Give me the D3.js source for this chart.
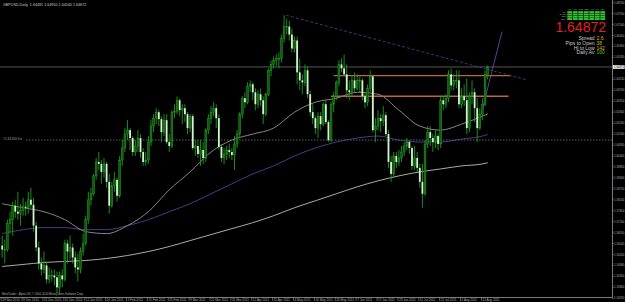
<!DOCTYPE html>
<html><head><meta charset="utf-8">
<script src="https://cdn.jsdelivr.net/npm/d3@7"></script>
<style>html,body{margin:0;padding:0;background:#000;overflow:hidden}svg{display:block}</style>
</head><body><svg id="c" width="625" height="302"></svg>
<script>
// ---------------- data ----------------
const symbolTitle = "GBPUSD,Daily  1.64491 1.64950 1.64240 1.64872";
const copyright = "MetaTrader - Alpari UK, \u00a9 2001-2010 MetaQuotes Software Corp.";
const open = [1.5590,1.5570,1.5570,1.5700,1.5720,1.5790,1.5760,1.5750,1.5765,1.5785,1.5780,1.5820,1.5795,1.5690,1.5580,1.5500,1.5470,1.5490,1.5420,1.5440,1.5440,1.5430,1.5380,1.5440,1.5420,1.5600,1.5560,1.5580,1.5530,1.5480,1.5470,1.5560,1.5600,1.5720,1.5820,1.5850,1.5940,1.6010,1.6000,1.5960,1.6000,1.5910,1.5790,1.5890,1.5920,1.5840,1.6020,1.6080,1.6150,1.6170,1.6130,1.6060,1.6090,1.6130,1.6060,1.6010,1.6020,1.6110,1.6190,1.6230,1.6260,1.6225,1.6160,1.6220,1.6110,1.6090,1.6260,1.6265,1.6320,1.6270,1.6280,1.6250,1.6180,1.6240,1.6080,1.6090,1.6050,1.6070,1.6030,1.6170,1.6230,1.6260,1.6280,1.6230,1.6085,1.6030,1.6050,1.6070,1.6060,1.6045,1.6100,1.6150,1.6250,1.6330,1.6310,1.6390,1.6400,1.6360,1.6300,1.6350,1.6320,1.6250,1.6350,1.6470,1.6500,1.6520,1.6530,1.6530,1.6630,1.6690,1.6690,1.6650,1.6580,1.6620,1.6460,1.6420,1.6410,1.6470,1.6350,1.6260,1.6230,1.6180,1.6240,1.6200,1.6300,1.6210,1.6120,1.6300,1.6340,1.6410,1.6500,1.6480,1.6450,1.6370,1.6360,1.6420,1.6380,1.6420,1.6420,1.6340,1.6310,1.6380,1.6440,1.6170,1.6190,1.6230,1.6215,1.6245,1.6150,1.6010,1.5950,1.6040,1.6010,1.6030,1.6060,1.6090,1.6110,1.6080,1.5990,1.6030,1.5980,1.5910,1.5850,1.6100,1.6160,1.6130,1.6110,1.6140,1.6100,1.6320,1.6300,1.6330,1.6450,1.6395,1.6420,1.6420,1.6300,1.6340,1.6320,1.6180,1.6340,1.6360,1.6280,1.6180,1.6250,1.6300,1.6449];
const high = [1.5640,1.5620,1.5720,1.5760,1.5810,1.5820,1.5860,1.5800,1.5830,1.5810,1.5860,1.5880,1.5830,1.5710,1.5610,1.5530,1.5560,1.5510,1.5480,1.5470,1.5470,1.5460,1.5460,1.5470,1.5620,1.5620,1.5640,1.5600,1.5560,1.5550,1.5580,1.5650,1.5740,1.5860,1.5880,1.5950,1.6030,1.6060,1.6020,1.6030,1.6010,1.5950,1.5910,1.5960,1.5930,1.6040,1.6120,1.6180,1.6220,1.6180,1.6140,1.6120,1.6170,1.6150,1.6080,1.6060,1.6140,1.6220,1.6250,1.6280,1.6270,1.6240,1.6250,1.6250,1.6150,1.6270,1.6300,1.6340,1.6330,1.6300,1.6300,1.6260,1.6250,1.6250,1.6120,1.6120,1.6120,1.6110,1.6180,1.6250,1.6290,1.6310,1.6300,1.6250,1.6100,1.6080,1.6090,1.6100,1.6080,1.6140,1.6170,1.6260,1.6340,1.6360,1.6410,1.6420,1.6410,1.6380,1.6370,1.6380,1.6340,1.6360,1.6480,1.6520,1.6540,1.6550,1.6560,1.6650,1.6747,1.6730,1.6720,1.6680,1.6640,1.6640,1.6530,1.6450,1.6500,1.6490,1.6370,1.6300,1.6240,1.6260,1.6260,1.6310,1.6320,1.6220,1.6310,1.6360,1.6420,1.6520,1.6530,1.6550,1.6500,1.6420,1.6440,1.6460,1.6450,1.6440,1.6430,1.6360,1.6400,1.6470,1.6450,1.6230,1.6270,1.6250,1.6290,1.6260,1.6170,1.6040,1.6060,1.6060,1.6070,1.6090,1.6110,1.6130,1.6120,1.6090,1.6090,1.6060,1.6000,1.6000,1.6120,1.6190,1.6190,1.6150,1.6170,1.6150,1.6340,1.6340,1.6350,1.6470,1.6480,1.6450,1.6470,1.6470,1.6380,1.6400,1.6430,1.6360,1.6420,1.6380,1.6330,1.6280,1.6330,1.6470,1.6495];
const low = [1.5530,1.5500,1.5560,1.5650,1.5640,1.5730,1.5720,1.5690,1.5740,1.5740,1.5750,1.5780,1.5660,1.5560,1.5470,1.5440,1.5450,1.5400,1.5400,1.5410,1.5390,1.5350,1.5350,1.5380,1.5410,1.5500,1.5520,1.5500,1.5450,1.5410,1.5450,1.5540,1.5590,1.5700,1.5790,1.5840,1.5920,1.5970,1.5900,1.5930,1.5880,1.5750,1.5780,1.5860,1.5810,1.5830,1.5990,1.6060,1.6120,1.6070,1.6040,1.6040,1.6060,1.6030,1.5990,1.5990,1.6000,1.6090,1.6160,1.6200,1.6190,1.6110,1.6140,1.6100,1.6060,1.6080,1.6230,1.6250,1.6240,1.6200,1.6210,1.6150,1.6160,1.6070,1.6040,1.6030,1.5990,1.6000,1.6010,1.6150,1.6200,1.6240,1.6180,1.6070,1.6010,1.6000,1.6020,1.6030,1.6020,1.5970,1.6080,1.6130,1.6230,1.6280,1.6300,1.6360,1.6320,1.6270,1.6280,1.6290,1.6200,1.6240,1.6340,1.6440,1.6480,1.6490,1.6480,1.6510,1.6610,1.6650,1.6620,1.6560,1.6560,1.6400,1.6370,1.6350,1.6390,1.6330,1.6240,1.6200,1.6150,1.6130,1.6170,1.6190,1.6200,1.6110,1.6110,1.6260,1.6320,1.6390,1.6460,1.6440,1.6330,1.6320,1.6340,1.6360,1.6370,1.6360,1.6320,1.6280,1.6290,1.6360,1.6160,1.6110,1.6170,1.6160,1.6190,1.6140,1.5980,1.5910,1.5930,1.5980,1.5990,1.6010,1.6040,1.6070,1.6050,1.5970,1.5970,1.5960,1.5880,1.5780,1.5840,1.6080,1.6090,1.6060,1.6080,1.6070,1.6080,1.6270,1.6280,1.6310,1.6370,1.6370,1.6380,1.6280,1.6280,1.6290,1.6150,1.6160,1.6300,1.6210,1.6110,1.6170,1.6220,1.6290,1.6424];
const close = [1.5570,1.5570,1.5700,1.5720,1.5790,1.5760,1.5750,1.5765,1.5785,1.5780,1.5820,1.5795,1.5690,1.5580,1.5500,1.5470,1.5490,1.5420,1.5440,1.5440,1.5430,1.5380,1.5440,1.5420,1.5600,1.5560,1.5580,1.5530,1.5480,1.5470,1.5560,1.5600,1.5720,1.5820,1.5850,1.5940,1.6010,1.6000,1.5960,1.6000,1.5910,1.5790,1.5890,1.5920,1.5840,1.6020,1.6080,1.6150,1.6170,1.6130,1.6060,1.6090,1.6130,1.6060,1.6010,1.6020,1.6110,1.6190,1.6230,1.6260,1.6225,1.6160,1.6220,1.6110,1.6090,1.6260,1.6265,1.6320,1.6270,1.6280,1.6250,1.6180,1.6240,1.6080,1.6090,1.6050,1.6070,1.6030,1.6170,1.6230,1.6260,1.6280,1.6230,1.6085,1.6030,1.6050,1.6070,1.6060,1.6045,1.6100,1.6150,1.6250,1.6330,1.6310,1.6390,1.6400,1.6360,1.6300,1.6350,1.6320,1.6250,1.6350,1.6470,1.6500,1.6520,1.6530,1.6530,1.6630,1.6690,1.6690,1.6650,1.6580,1.6620,1.6460,1.6420,1.6410,1.6470,1.6350,1.6260,1.6230,1.6180,1.6240,1.6200,1.6300,1.6210,1.6120,1.6300,1.6340,1.6410,1.6500,1.6480,1.6450,1.6370,1.6360,1.6420,1.6380,1.6420,1.6420,1.6340,1.6310,1.6380,1.6440,1.6170,1.6190,1.6230,1.6215,1.6245,1.6150,1.6010,1.5950,1.6040,1.6010,1.6030,1.6060,1.6090,1.6110,1.6080,1.5990,1.6030,1.5980,1.5910,1.5850,1.6100,1.6160,1.6130,1.6110,1.6140,1.6100,1.6320,1.6300,1.6330,1.6450,1.6395,1.6420,1.6420,1.6300,1.6340,1.6320,1.6180,1.6340,1.6360,1.6280,1.6180,1.6250,1.6300,1.6449,1.6487];

const dateTickIndex = [0,8,16,24,32,40,48,56,64,72,80,88,96,104,112,120,128,136,144,152,160,168,176,184];
const dateTickLabels = ["29 Nov 2010","9 Dec 2010","21 Dec 2010","31 Dec 2010","12 Jan 2011","24 Jan 2011","3 Feb 2011","15 Feb 2011","25 Feb 2011","9 Mar 2011","21 Mar 2011","31 Mar 2011","12 Apr 2011","22 Apr 2011","4 May 2011","16 May 2011","26 May 2011","7 Jun 2011","17 Jun 2011","29 Jun 2011","11 Jul 2011","21 Jul 2011","2 Aug 2011","12 Aug 2011"];
const yTicks = [1.6810,1.6755,1.6700,1.6645,1.6590,1.6535,1.6425,1.6370,1.6315,1.6260,1.6205,1.6150,1.6095,1.6040,1.5985,1.5930,1.5875,1.5820,1.5765,1.5710,1.5655,1.5600,1.5545,1.5490,1.5435,1.5380,1.5325];

const maIndex = [0,8,16,24,32,40,48,56,64,72,80,88,96,104,112,120,128,136,144,152,160,168,176,184,186];
const maFast = [1.5800,1.5780,1.5760,1.5720,1.5660,1.5650,1.5690,1.5760,1.5870,1.5960,1.6060,1.6120,1.6150,1.6180,1.6260,1.6310,1.6330,1.6360,1.6350,1.6270,1.6190,1.6170,1.6200,1.6240,1.6251];
const maMid = [1.5650,1.5670,1.5680,1.5680,1.5670,1.5670,1.5690,1.5720,1.5760,1.5800,1.5850,1.5900,1.5950,1.5990,1.6040,1.6080,1.6110,1.6130,1.6140,1.6120,1.6110,1.6110,1.6125,1.6140,1.6148];
const maSlow = [1.5485,1.5495,1.5505,1.5510,1.5515,1.5525,1.5540,1.5560,1.5585,1.5615,1.5645,1.5675,1.5705,1.5740,1.5780,1.5815,1.5850,1.5885,1.5915,1.5940,1.5960,1.5975,1.5990,1.6000,1.6006];

const currentPrice = 1.64872;
const levelLinePrices = [1.6444, 1.6340];
const levelLineFrom = [127, 126];
const levelLineTo = [195, 194];
const hLineLabel = "#1.61200 fro";
const hLinePrice = 1.6120;
const trendFrom = [108.8, 1.6747], trendTo = [200.8, 1.6423];
const rayFrom = [183.5, 1.6250], rayTo = [191.5, 1.6665];

const tfLabels = ["M1","M5","M15","M30","H1","H4","D1"];
const rowLabels = ["MA","MACD","STR","EMA"];
const infoLabels = ["Spread","Pips to Open","Hi to Low","Daily Av"];
const infoValues = ["2.6","38","142","160"];
const infoColors = ["#e8a020","#9ad020","#e8a020","#30d030"];

// ---------------- drawing ----------------
const W = 625, H = 302, plotR = 612, plotB = 297;
const svg = d3.select("#c");
svg.append("rect").attr("width",W).attr("height",H).attr("fill","#000");

const x = d3.scaleLinear().domain([0, 186]).range([2.2, 2.2 + 2.61*186]);
const y = d3.scaleLinear().domain([1.6810, 1.5325]).range([2.7, 298.3]);

const plot = svg.append("g");
plot.append("clipPath").attr("id","cp").append("rect").attr("x",0).attr("y",0).attr("width",plotR).attr("height",plotB);
const g = plot.append("g").attr("clip-path","url(#cp)");
const font = "Liberation Sans, Arial, sans-serif";

// horizontal dotted line with label
g.append("line").attr("x1",26).attr("x2",plotR).attr("y1",y(hLinePrice)).attr("y2",y(hLinePrice))
  .attr("stroke","#8a8a8a").attr("stroke-width",0.7).attr("stroke-dasharray","1.5,1.5");
svg.append("text").attr("x",3).attr("y",y(hLinePrice)-0.4).text(hLineLabel)
  .attr("fill","#a0a0a0").attr("font-size",3.4).attr("font-family",font);

// bid line
g.append("line").attr("x1",0).attr("x2",plotR).attr("y1",y(currentPrice)).attr("y2",y(currentPrice))
  .attr("stroke","#6c6c6c").attr("stroke-width",0.8);

// moving averages
const maLine = d3.line().x((d,i)=>x(maIndex[i])).y(d=>y(d)).curve(d3.curveMonotoneX);
g.append("path").attr("d",maLine(maSlow)).attr("fill","none").attr("stroke","#d8d8c8").attr("stroke-width",0.8);
g.append("path").attr("d",maLine(maMid)).attr("fill","none").attr("stroke","#5a4aa8").attr("stroke-width",0.8);
g.append("path").attr("d",maLine(maFast)).attr("fill","none").attr("stroke","#a8a8a0").attr("stroke-width",0.8);

// level lines
levelLinePrices.forEach((p,k)=>{
  g.append("line").attr("x1",x(levelLineFrom[k])).attr("x2",x(levelLineTo[k]))
    .attr("y1",y(p)).attr("y2",y(p)).attr("stroke","#b8683c").attr("stroke-width",1.3);
});

// trend lines
g.append("line").attr("x1",x(trendFrom[0])).attr("y1",y(trendFrom[1])).attr("x2",x(trendTo[0])).attr("y2",y(trendTo[1]))
  .attr("stroke","#4b4496").attr("stroke-width",0.8).attr("stroke-dasharray","3,2");
g.append("line").attr("x1",x(rayFrom[0])).attr("y1",y(rayFrom[1])).attr("x2",x(rayTo[0])).attr("y2",y(rayTo[1]))
  .attr("stroke","#7050b8").attr("stroke-width",0.8);

// candles
const idx = d3.range(close.length);
const cg = g.append("g");
cg.selectAll("line.w").data(idx).join("line").attr("class","w")
  .attr("x1",i=>x(i)).attr("x2",i=>x(i)).attr("y1",i=>y(high[i])).attr("y2",i=>y(low[i]))
  .attr("stroke","#1f9a1f").attr("stroke-width",0.9);
cg.selectAll("rect.b").data(idx).join("rect").attr("class","b")
  .attr("x",i=>x(i)-0.9).attr("width",1.8)
  .attr("y",i=>y(Math.max(open[i],close[i])))
  .attr("height",i=>Math.max(0.8, Math.abs(y(open[i])-y(close[i]))))
  .attr("fill",i=>close[i]>=open[i] ? "#0f5a0f" : "#d4f4d0")
  .attr("stroke",i=>close[i]>=open[i] ? "#22a022" : "none").attr("stroke-width",0.5);

// axes frame
svg.append("line").attr("x1",plotR+0.5).attr("x2",plotR+0.5).attr("y1",0).attr("y2",plotB+0.5).attr("stroke","#9a9a9a").attr("stroke-width",0.8);
svg.append("line").attr("x1",0).attr("x2",plotR+0.5).attr("y1",plotB+0.5).attr("y2",plotB+0.5).attr("stroke","#9a9a9a").attr("stroke-width",0.8);

// price axis
const ya = svg.append("g");
ya.selectAll("line").data(yTicks).join("line").attr("x1",plotR).attr("x2",plotR+1.6).attr("y1",d=>y(d)).attr("y2",d=>y(d)).attr("stroke","#9a9a9a").attr("stroke-width",0.6);
ya.selectAll("text").data(yTicks).join("text").attr("x",plotR+2.1).attr("y",d=>y(d)+1.0).text(d=>d.toFixed(5))
  .attr("fill","#b0b0b0").attr("font-size",2.85).attr("font-family",font);
// current price box
svg.append("rect").attr("x",plotR+1).attr("y",y(currentPrice)-1.9).attr("width",11.6).attr("height",3.8).attr("fill","#f0f0f0");
svg.append("text").attr("x",plotR+2.1).attr("y",y(currentPrice)+1.0).text(currentPrice.toFixed(5)).attr("fill","#000").attr("font-size",2.85).attr("font-family",font);

// time axis
const xa = svg.append("g");
xa.selectAll("line").data(dateTickIndex).join("line").attr("x1",d=>x(d)-1).attr("x2",d=>x(d)-1).attr("y1",plotB).attr("y2",301).attr("stroke","#9a9a9a").attr("stroke-width",0.6);
xa.selectAll("text").data(dateTickIndex).join("text").attr("x",d=>x(d)).attr("y",300.6).text((d,k)=>dateTickLabels[k])
  .attr("fill","#b0b0b0").attr("font-size",3.1).attr("font-family",font);

// title & copyright
svg.append("text").attr("x",3).attr("y",5.6).text(symbolTitle).attr("fill","#c8c8c8").attr("font-size",3.7).attr("font-family",font).attr("xml:space","preserve");
svg.append("text").attr("x",2).attr("y",294.8).text(copyright).attr("fill","#b0b0b0").attr("font-size",2.8).attr("font-family",font);

// info panel
const pg = svg.append("g");
const gx0 = 567, cw = 5.5, gy0 = 11.2, rh = 1.9;
tfLabels.forEach((t,c)=>{
  pg.append("text").attr("x",gx0+c*cw+cw/2).attr("y",10).attr("text-anchor","middle").text(t).attr("fill","#b0b0b0").attr("font-size",2.4).attr("font-family",font);
  rowLabels.forEach((r,k)=>{
    pg.append("rect").attr("x",gx0+c*cw+0.3).attr("y",gy0+k*(rh+0.4)).attr("width",cw-0.6).attr("height",rh).attr("fill","#2fc82f");
  });
});
rowLabels.forEach((r,k)=>{
  pg.append("text").attr("x",gx0-1).attr("y",gy0+k*(rh+0.4)+1.6).attr("text-anchor","end").text(r).attr("fill","#b0b0b0").attr("font-size",2.2).attr("font-family",font);
});
pg.append("text").attr("x",606).attr("y",32.4).attr("text-anchor","end").text(currentPrice.toFixed(5))
  .attr("fill","#e02222").attr("font-size",14).attr("font-family",font);
infoLabels.forEach((t,k)=>{
  const yy = 40 + k*4.8;
  pg.append("text").attr("x",594.5).attr("y",yy).attr("text-anchor","end").text(t).attr("fill","#c8c8c8").attr("font-size",5.0).attr("font-family",font);
  pg.append("text").attr("x",596.5).attr("y",yy).text(infoValues[k]).attr("fill",infoColors[k]).attr("font-size",5.0).attr("font-family",font);
});
</script></body></html>
